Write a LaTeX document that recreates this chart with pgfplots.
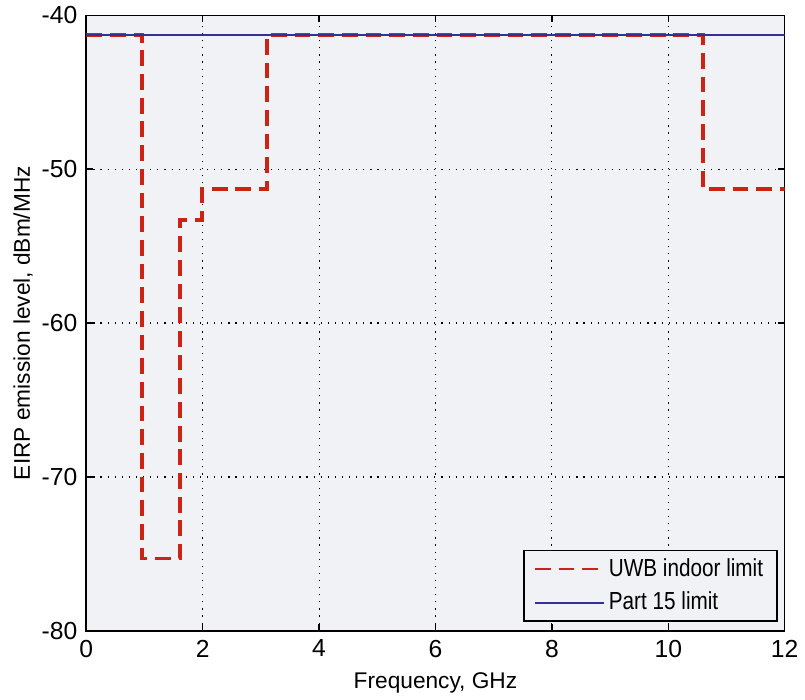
\documentclass[border=0pt]{standalone}
\usepackage{pgfplots}
\pgfplotsset{compat=1.18}
\usepackage{fontspec}
\setmainfont{Liberation Sans}
\newfontfamily\narrowfont[FakeStretch=0.84]{Liberation Sans}
\definecolor{uwbred}{RGB}{205,35,20}
\definecolor{p15blue}{RGB}{50,50,150}
\definecolor{axbg}{RGB}{241,242,246}
\begin{document}
\begin{tikzpicture}
\begin{axis}[
  scale only axis,
  width=354pt, height=312pt,
  xmin=0, xmax=12, ymin=-80, ymax=-40,
  xtick={0,2,...,12}, ytick={-80,-70,...,-40},
  axis background/.style={fill=axbg},
  grid=major,
  major grid style={black, line width=0.6pt, dash pattern=on 0.6pt off 3pt},
  tick align=inside,
  major tick length=3.5pt,
  tick style={black, line width=0.8pt},
  axis line style={black, line width=0.8pt},
  ticklabel style={font=\fontsize{12.5}{14}\selectfont},
  yticklabel style={xshift=-1pt},
  xticklabel style={yshift=-1pt},
  /pgf/number format/assume math mode=true,
  xlabel={Frequency, GHz},
  ylabel={EIRP emission level, dBm/MHz},
  every axis x label/.style={at={(rel axis cs:0.5,0)}, anchor=center,
    yshift=-26.5pt, font=\fontsize{11.5}{13}\selectfont},
  every axis y label/.style={at={(rel axis cs:0,0.5)}, anchor=center,
    rotate=90, yshift=32pt, font=\fontsize{11.5}{13}\selectfont},
  legend style={at={(rel axis cs:0.99,0.015)}, anchor=south east,
    font=\narrowfont\fontsize{12.5}{14}\selectfont, draw=black, line width=0.8pt,
    fill=axbg, inner xsep=5pt, inner ysep=2pt, row sep=2.5pt},
  legend cell align=left,
  legend image code/.code={\draw[#1, line width=1pt] (0pt,0pt) -- (35pt,0pt);},
]
\addplot[uwbred, line width=2pt, dash pattern=on 8pt off 4pt] coordinates {
  (0,-41.3) (0.96,-41.3) (0.96,-75.3) (1.61,-75.3) (1.61,-53.3)
  (1.99,-53.3) (1.99,-51.3) (3.1,-51.3) (3.1,-41.3) (10.6,-41.3)
  (10.6,-51.3) (12,-51.3)};
\addplot[p15blue, line width=1pt] coordinates {(0,-41.3) (12,-41.3)};
\legend{UWB indoor limit, Part 15 limit}
\end{axis}
\path ([xshift=-3.5pt]current bounding box.west);
\end{tikzpicture}
\end{document}
